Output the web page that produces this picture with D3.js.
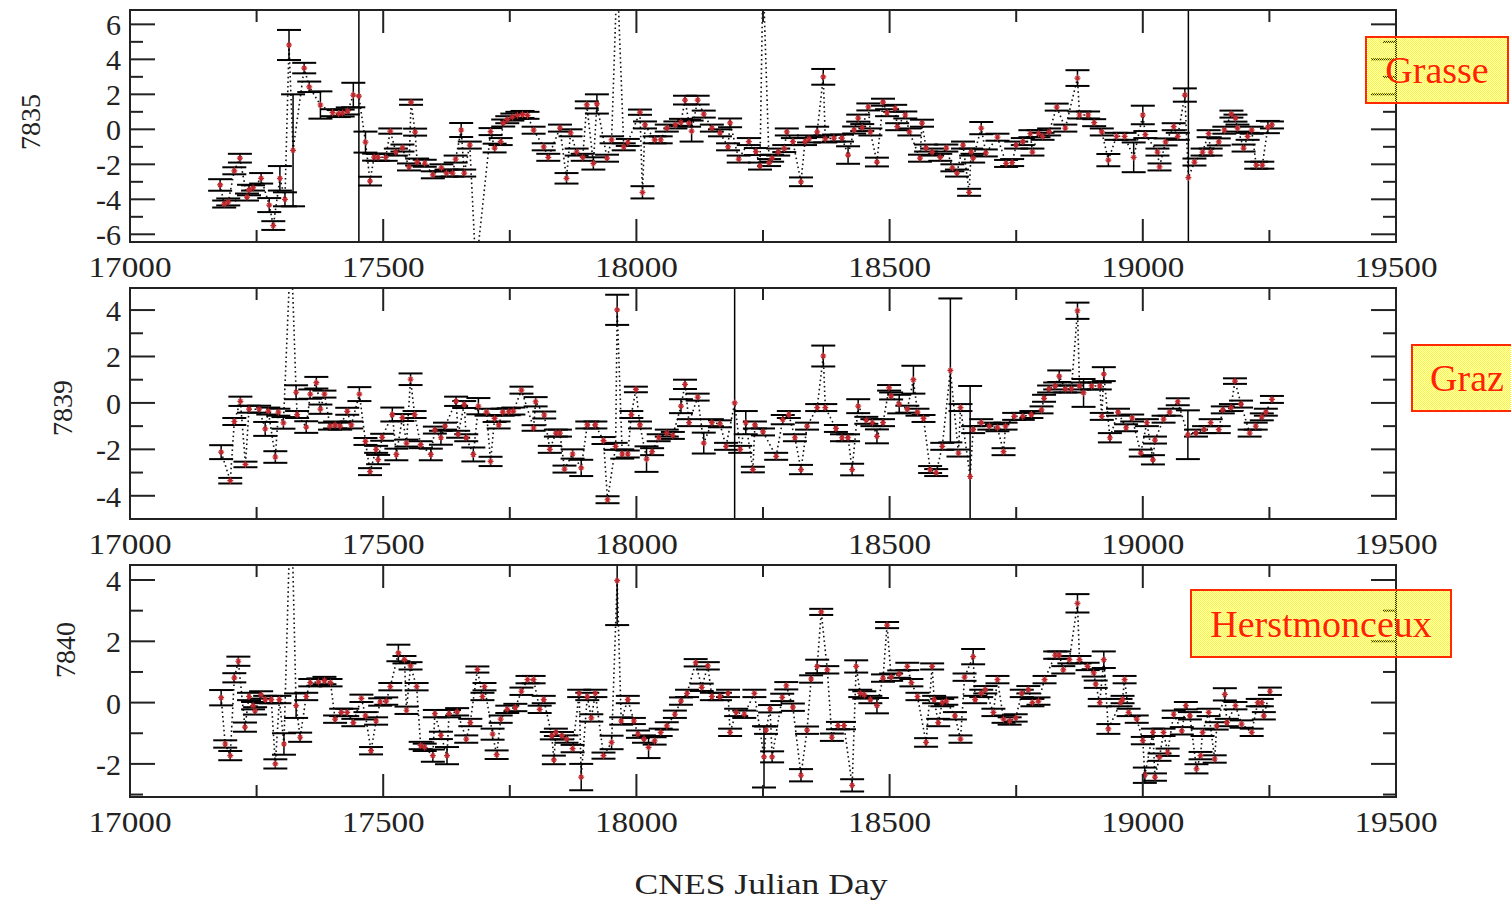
<!DOCTYPE html>
<html>
<head>
<meta charset="utf-8">
<script src="https://cdn.jsdelivr.net/npm/d3@7"></script>
<style>
  body { margin: 0; background: #fff; }
  svg { display: block; }
  text { font-family: "Liberation Serif", "Times New Roman", serif; }
</style>
</head>
<body>
<div id="chart"></div>
<script>
// station labels
const stationCodes = ["7835", "7839", "7840"];
const stationNames = ["Grasse", "Graz", "Herstmonceux"];
const xTickLabels = [17000, 17500, 18000, 18500, 19000, 19500];
const xTitle = "CNES Julian Day";

// [CNES julian day, value, error]
const grasse = [
  [17178,-3.18,0.33],[17186,-4.27,0.2],[17194,-4.15,0.2],[17206,-2.37,0.2],[17217,-1.65,0.25],
  [17231,-3.87,0.2],[17235,-3.47,0.3],[17243,-3.35,0.15],[17259,-2.8,0.3],[17275,-4.33,0.4],
  [17283,-5.5,0.25],[17296,-2.8,0.7],[17306,-4.0,0.4],[17314,4.82,0.86],[17322,-1.2,3.2],
  [17344,3.5,0.3],[17354,2.43,0.3],[17376,1.39,0.78],[17400,0.95,0.2],[17412,0.9,0.2],
  [17420,0.93,0.2],[17430,1.05,0.2],[17441,1.96,0.7],[17452,1.9,20],[17465,-0.73,0.6],
  [17474,-2.96,0.25],[17482,-1.59,0.2],[17490,-1.6,0.2],[17505,-1.6,0.2],[17514,-0.1,0.15],
  [17525,-1.3,0.2],[17538,-1.07,0.2],[17551,-2.15,0.2],[17555,1.55,0.15],[17563,-0.16,0.2],
  [17567,-1.87,0.2],[17582,-1.94,0.2],[17598,-2.6,0.2],[17615,-2.2,0.2],[17625,-2.5,0.2],
  [17637,-2.5,0.2],[17643,-1.7,0.2],[17654,-0.04,0.4],[17660,-2.5,0.2],[17671,-0.9,0.2],
  [17683,-8,0.3],[17712,-0.13,0.2],[17720,-1.07,0.25],[17732,-0.7,0.2],[17737,0.36,0.2],
  [17745,0.55,0.2],[17755,0.7,0.2],[17765,0.8,0.2],[17775,0.85,0.2],[17785,0.8,0.2],
  [17797,-0.05,0.2],[17817,-1.0,0.2],[17826,-1.6,0.2],[17849,0.07,0.2],[17862,-2.8,0.3],
  [17870,-0.2,0.2],[17882,-1.3,0.2],[17894,-1.6,0.2],[17902,1.4,0.2],[17915,-1.95,0.35],
  [17922,1.45,0.55],[17942,-1.65,0.2],[17951,-0.6,0.2],[17962,9,0.3],[17975,-1.0,0.2],
  [17983,-0.75,0.2],[18007,0.98,0.15],[18012,-3.6,0.35],[18017,0.25,0.2],[18036,-0.6,0.2],
  [18048,-0.6,0.2],[18060,0.07,0.2],[18077,0.25,0.2],[18088,0.4,0.2],[18096,1.67,0.25],
  [18104,0.35,0.2],[18109,-0.1,0.6],[18121,1.67,0.25],[18133,0.87,0.2],[18149,0.07,0.2],
  [18165,-0.2,0.2],[18181,-1.0,0.2],[18185,0.37,0.25],[18202,-1.7,0.2],[18222,-0.7,0.2],
  [18236,-1.27,0.2],[18244,-2.1,0.2],[18250,9,0.3],[18262,-1.9,0.2],[18268,-1.65,0.2],
  [18280,-1.3,0.2],[18292,-1.1,0.2],[18297,-0.15,0.2],[18309,-0.7,0.2],[18325,-3.0,0.25],
  [18333,-0.7,0.2],[18341,-0.55,0.2],[18357,-0.15,0.3],[18369,3.0,0.45],[18373,-0.55,0.2],
  [18390,-0.5,0.2],[18406,-0.5,0.2],[18418,-1.47,0.5],[18430,-0.04,0.2],[18438,0.64,0.2],
  [18446,0.1,0.2],[18458,1.28,0.2],[18462,-0.15,0.2],[18475,-1.87,0.25],[18487,1.55,0.2],
  [18495,0.95,0.2],[18511,1.2,0.2],[18515,0.15,0.2],[18531,0.82,0.2],[18539,-0.15,0.2],
  [18560,-1.65,0.2],[18564,0.35,0.2],[18572,-1.07,0.2],[18584,-1.3,0.2],[18600,-1.6,0.2],
  [18612,-1.07,0.2],[18624,-2.2,0.2],[18633,-2.5,0.2],[18645,-0.9,0.2],[18657,-3.6,0.2],
  [18661,-1.3,0.2],[18665,-1.65,0.25],[18681,0.07,0.35],[18690,-1.35,0.2],[18713,-0.45,0.2],
  [18730,-1.95,0.2],[18742,-1.9,0.2],[18750,-0.9,0.2],[18763,-0.7,0.2],[18778,-0.25,0.2],
  [18782,-1.3,0.2],[18794,-0.25,0.2],[18802,-0.4,0.2],[18815,-0.15,0.2],[18830,1.27,0.2],
  [18847,0.07,0.2],[18871,2.93,0.45],[18875,0.82,0.2],[18892,0.82,0.2],[18904,0.38,0.2],
  [18919,-0.15,0.2],[18932,-1.76,0.35],[18948,-0.4,0.2],[18964,-0.4,0.2],[18982,-1.6,0.85],
  [19000,0.82,0.53],[19005,-0.3,0.2],[19029,-1.3,0.2],[19033,-2.15,0.2],[19045,-0.72,0.2],
  [19061,0.15,0.2],[19069,-0.4,0.2],[19083,1.96,0.38],[19090,-2.76,20],[19102,-1.87,0.2],
  [19118,-1.3,0.2],[19130,-0.25,0.2],[19134,-1.3,0.2],[19150,-0.72,0.2],[19161,-0.05,0.2],
  [19175,0.87,0.2],[19183,0.64,0.2],[19187,0.07,0.2],[19199,-1.07,0.2],[19207,-0.4,0.2],
  [19215,-0.05,0.2],[19224,-2.05,0.2],[19236,-2.05,0.2],[19247,0.13,0.35],[19255,0.25,0.2]
];

const graz = [
  [17180,-2.12,0.3],[17198,-3.35,0.12],[17206,-0.8,0.15],[17218,0.07,0.2],[17228,-2.65,0.12],
  [17235,-0.27,0.15],[17255,-0.27,0.15],[17267,-1.12,0.3],[17273,-0.35,0.15],[17287,-2.33,0.25],
  [17293,-0.4,0.15],[17303,-0.86,0.25],[17318,7,0.3],[17328,0.46,0.3],[17330,-0.5,0.15],
  [17348,-1.04,0.25],[17356,0.38,0.2],[17368,0.87,0.25],[17376,-0.27,0.2],[17384,0.38,0.15],
  [17395,-1.0,0.15],[17405,-0.95,0.15],[17415,-1.0,0.15],[17429,-0.36,0.15],[17437,-0.95,0.15],
  [17453,0.38,0.3],[17465,-1.66,0.15],[17474,-2.96,0.15],[17486,-2.0,0.15],[17490,-2.44,0.2],
  [17498,-1.48,0.15],[17518,-0.5,0.3],[17526,-2.22,0.25],[17538,-0.63,0.15],[17546,-1.73,0.15],
  [17554,1.02,0.25],[17562,-0.5,0.15],[17574,-1.8,0.15],[17594,-2.22,0.25],[17602,-1.17,0.15],
  [17614,-1.5,0.3],[17622,-1.0,0.15],[17644,0.07,0.2],[17648,-1.35,0.15],[17660,-0.07,0.15],
  [17664,-1.5,0.15],[17678,-2.22,0.3],[17688,-0.14,0.35],[17704,-0.4,0.15],[17712,-2.52,0.2],
  [17720,-0.67,0.15],[17728,-0.95,0.15],[17736,-0.4,0.15],[17748,-0.38,0.15],[17757,-0.35,0.15],
  [17773,0.55,0.15],[17797,-1.08,0.12],[17801,0.05,0.2],[17818,-0.52,0.15],[17829,-2.0,0.15],
  [17841,-1.3,0.15],[17849,-1.3,0.15],[17858,-2.85,0.15],[17874,-2.2,0.2],[17891,-2.8,0.35],
  [17903,-0.95,0.15],[17919,-0.95,0.15],[17935,-1.62,0.15],[17943,-4.17,0.15],[17959,-1.87,0.15],
  [17962,4.01,0.65],[17972,-2.2,0.2],[17983,-2.2,0.15],[17990,-0.5,0.15],[17999,0.58,0.12],
  [18007,-0.95,0.15],[18020,-2.42,0.55],[18031,-2.1,0.15],[18044,-1.5,0.15],[18060,-1.3,0.15],
  [18072,-1.4,0.15],[18088,-0.14,0.3],[18096,0.8,0.2],[18104,-0.85,0.15],[18121,0.25,0.15],
  [18133,-1.73,0.45],[18149,-0.85,0.15],[18165,-0.9,0.15],[18177,-1.87,0.15],[18194,0,20],
  [18205,-2.0,0.15],[18216,-0.85,0.5],[18230,-2.87,0.12],[18234,-0.95,0.15],[18250,-1.25,0.15],
  [18276,-2.3,0.15],[18289,-0.72,0.2],[18301,-0.5,0.15],[18313,-1.5,0.15],[18325,-2.87,0.2],
  [18337,-1.0,0.15],[18357,-0.2,0.15],[18369,2.02,0.45],[18373,-0.2,0.15],[18394,-1.1,0.15],
  [18406,-1.5,0.15],[18418,-1.5,0.15],[18426,-2.87,0.25],[18438,-0.14,0.3],[18454,-0.75,0.15],
  [18466,-0.85,0.15],[18475,-1.44,0.3],[18487,-0.85,0.15],[18499,0.65,0.12],[18503,0.3,0.15],
  [18519,-0.05,0.4],[18535,-0.27,0.15],[18547,1.0,0.6],[18555,-0.4,0.15],[18567,-0.67,0.15],
  [18580,-2.87,0.15],[18592,-3.0,0.15],[18604,-1.87,0.15],[18620,1.4,3.1],[18636,-2.16,0.15],
  [18640,-0.2,0.15],[18659,-3.17,3.9],[18665,-1.15,0.15],[18681,-0.85,0.15],[18697,-1.0,0.15],
  [18713,-1.07,0.15],[18725,-2.1,0.15],[18729,-1.0,0.15],[18746,-0.58,0.15],[18763,-0.58,0.15],
  [18780,-0.5,0.15],[18800,-0.3,0.15],[18805,0.2,0.15],[18815,0.6,0.15],[18827,0.73,0.15],
  [18835,1.15,0.25],[18847,0.6,0.15],[18859,0.6,0.15],[18871,3.97,0.35],[18875,0.73,0.15],
  [18883,0.43,0.6],[18899,0.73,0.15],[18915,0.73,0.15],[18919,-0.58,0.15],[18923,1.24,0.3],
  [18935,-1.5,0.2],[18951,-0.4,0.15],[18967,-1.07,0.15],[18979,-0.65,0.15],[18996,-2.16,0.15],
  [19008,-0.85,0.15],[19020,-2.45,0.2],[19024,-1.6,0.15],[19041,-0.7,0.15],[19053,-0.4,0.15],
  [19069,0.05,0.15],[19089,-1.37,1.05],[19105,-1.3,0.15],[19121,-1.15,0.15],[19134,-0.85,0.15],
  [19150,-1.15,0.15],[19158,-0.3,0.15],[19174,-0.2,0.15],[19182,0.94,0.12],[19194,-0.05,0.15],
  [19211,-1.3,0.15],[19223,-1.0,0.15],[19235,-0.6,0.15],[19243,-0.4,0.15],[19255,0.15,0.15]
];

const herstmonceux = [
  [17180,0.16,0.25],[17188,-1.35,0.12],[17198,-1.73,0.15],[17206,0.81,0.15],[17214,1.35,0.15],
  [17227,-0.8,0.15],[17235,0.2,0.12],[17243,-0.1,0.12],[17247,-0.27,0.12],[17259,0.25,0.12],
  [17267,0.1,0.12],[17279,0.1,0.12],[17287,-2.0,0.15],[17295,0.1,0.12],[17304,-1.35,0.35],
  [17318,7,0.3],[17328,-0.1,0.4],[17336,-1.13,0.15],[17348,0.2,0.12],[17356,0.65,0.12],
  [17372,0.67,0.12],[17384,0.72,0.12],[17396,0.65,0.12],[17405,-0.54,0.12],[17417,-0.32,0.12],
  [17429,-0.32,0.12],[17441,-0.65,0.12],[17457,0.14,0.12],[17465,-0.43,0.12],[17476,-1.57,0.12],
  [17486,-0.6,0.12],[17494,0.02,0.12],[17506,0.05,0.12],[17514,0.52,0.12],[17530,1.62,0.27],
  [17542,1.4,0.12],[17546,-0.25,0.12],[17554,1.2,0.12],[17566,0.52,0.12],[17574,-1.4,0.12],
  [17582,-1.46,0.12],[17598,-1.73,0.2],[17602,-0.36,0.12],[17614,-1.07,0.12],[17626,-1.73,0.28],
  [17630,-0.36,0.12],[17646,-0.3,0.12],[17664,-1.19,0.12],[17672,-0.65,0.12],[17686,1.08,0.1],
  [17696,0.2,0.12],[17700,0.52,0.12],[17716,-1.03,0.18],[17724,-1.7,0.14],[17732,-0.54,0.12],
  [17745,-0.22,0.12],[17761,-0.16,0.12],[17773,0.37,0.12],[17785,0.75,0.12],[17797,0.75,0.12],
  [17809,-0.22,0.12],[17817,0.1,0.12],[17833,-1.08,0.12],[17837,-1.87,0.14],[17841,-0.97,0.12],
  [17853,-1.08,0.12],[17862,-1.19,0.12],[17874,-1.5,0.12],[17887,0.3,0.12],[17891,-2.43,0.43],
  [17903,0.2,0.12],[17911,-0.5,0.12],[17919,0.3,0.12],[17935,-1.73,0.1],[17951,-1.3,0.22],
  [17962,3.98,1.45],[17970,-0.6,0.12],[17983,0.1,0.12],[17995,-0.6,0.1],[18003,-1.03,0.12],
  [18015,-1.19,0.12],[18024,-1.46,0.35],[18036,-1.25,0.12],[18048,-0.97,0.12],[18060,-0.76,0.12],
  [18076,-0.38,0.12],[18088,0.05,0.12],[18100,0.3,0.12],[18117,1.3,0.12],[18129,0.5,0.12],
  [18141,1.2,0.12],[18149,0.2,0.12],[18165,0.2,0.12],[18181,0.3,0.12],[18185,-0.97,0.12],
  [18197,-0.32,0.12],[18213,-0.38,0.12],[18233,0.3,0.12],[18252,-1.77,1.0],[18256,-0.9,0.12],
  [18264,-0.2,0.12],[18268,-1.77,0.18],[18288,0.17,0.12],[18296,0.55,0.12],[18309,-0.15,0.12],
  [18325,-2.37,0.2],[18337,-0.9,0.12],[18345,0.77,0.12],[18357,1.18,0.22],[18365,2.96,0.1],
  [18377,1.07,0.12],[18386,-1.13,0.12],[18398,-0.75,0.12],[18410,-0.75,0.12],[18426,-2.7,0.2],
  [18434,1.18,0.2],[18442,0.3,0.12],[18450,0.25,0.12],[18462,0.1,0.12],[18475,-0.1,0.25],
  [18487,0.8,0.12],[18495,2.53,0.1],[18503,0.83,0.12],[18519,0.93,0.12],[18535,1.18,0.12],
  [18543,0.65,0.12],[18555,0.2,0.12],[18572,-1.3,0.14],[18584,1.18,0.1],[18588,0.1,0.12],
  [18596,-0.65,0.12],[18604,0.0,0.12],[18612,0.05,0.12],[18629,-0.43,0.12],[18640,-1.19,0.12],
  [18648,0.83,0.12],[18665,1.5,0.25],[18669,0.1,0.12],[18681,0.3,0.12],[18689,0.42,0.12],
  [18705,-0.32,0.12],[18713,0.75,0.12],[18725,-0.54,0.12],[18737,-0.6,0.12],[18749,-0.5,0.12],
  [18761,0.3,0.12],[18774,0.42,0.12],[18782,0.0,0.12],[18794,0.05,0.12],[18806,0.75,0.12],
  [18827,1.55,0.12],[18835,1.55,0.12],[18843,1.07,0.12],[18855,1.4,0.12],[18871,3.24,0.3],
  [18875,1.4,0.12],[18891,1.18,0.12],[18903,0.97,0.12],[18907,0.6,0.12],[18915,0.0,0.12],
  [18923,1.4,0.27],[18932,-0.86,0.16],[18956,0.0,0.12],[18960,0.1,0.12],[18964,0.75,0.12],
  [18972,-0.32,0.12],[18988,-0.54,0.12],[19000,-1.24,0.12],[19004,-2.37,0.25],[19020,-0.97,0.12],
  [19024,-2.43,0.12],[19033,-1.78,0.12],[19041,-0.97,0.12],[19049,-1.62,0.12],[19061,-0.38,0.12],
  [19077,-0.92,0.12],[19085,-0.1,0.12],[19093,-0.43,0.12],[19106,-2.16,0.15],[19114,-1.73,0.12],
  [19118,-0.97,0.12],[19130,-0.32,0.12],[19142,-1.84,0.12],[19146,-0.76,0.12],[19162,0.27,0.2],
  [19166,-0.65,0.12],[19183,-0.1,0.12],[19195,-0.7,0.12],[19215,-0.97,0.12],[19227,0.0,0.12],
  [19235,0.0,0.12],[19239,-0.43,0.12],[19251,0.37,0.12]
];

const W = 1511, H = 903;
const svg = d3.select("#chart").append("svg").attr("width", W).attr("height", H);

// dithered yellow fill (lets the axis ticks show through, like the original)
const defs = svg.append("defs");
const pat = defs.append("pattern").attr("id", "dither")
    .attr("width", 2).attr("height", 2).attr("patternUnits", "userSpaceOnUse");
pat.append("rect").attr("x", 0).attr("y", 0).attr("width", 1).attr("height", 1).attr("fill", "#ffff00");
pat.append("rect").attr("x", 1).attr("y", 1).attr("width", 1).attr("height", 1).attr("fill", "#ffff00");

const x = d3.scaleLinear().domain([17000, 19500]).range([130, 1396]);

const panels = [
    { code: stationCodes[0], data: grasse, top: 10, bottom: 242, domain: [-6.44, 6.82],
      yTicks: d3.range(-6, 7), labelPos: [40, 122] },
    { code: stationCodes[1], data: graz, top: 288, bottom: 519, domain: [-5.0, 4.95],
      yTicks: d3.range(-4, 5), labelPos: [72, 408] },
    { code: stationCodes[2], data: herstmonceux, top: 565, bottom: 797, domain: [-3.08, 4.49],
      yTicks: d3.range(-3, 5), labelPos: [75, 650] }
];

const CAP = 12;
const redMark = "#c0282d";

panels.forEach((p, i) => {
    const y = d3.scaleLinear().domain(p.domain).range([p.bottom, p.top]);
    const g = svg.append("g");

    defs.append("clipPath").attr("id", `clip${i}`)
        .append("rect").attr("x", 130).attr("y", p.top).attr("width", 1266).attr("height", p.bottom - p.top);
    const plot = g.append("g").attr("clip-path", `url(#clip${i})`);

    // dotted connecting line
    const line = d3.line().x(d => x(d[0])).y(d => y(d[1]));
    plot.append("path").datum(p.data)
        .attr("d", line).attr("fill", "none")
        .attr("stroke", "#111").attr("stroke-width", 1.6).attr("stroke-dasharray", "1.6,3");

    // error bars
    const bars = plot.selectAll("g.bar").data(p.data).join("g").attr("class", "bar");
    bars.append("line")
        .attr("x1", d => x(d[0])).attr("x2", d => x(d[0]))
        .attr("y1", d => y(d[1] + d[2])).attr("y2", d => y(d[1] - d[2]))
        .attr("stroke", "#000").attr("stroke-width", 1.5);
    [1, -1].forEach(s => {
        bars.append("line")
            .attr("x1", d => x(d[0]) - CAP).attr("x2", d => x(d[0]) + CAP)
            .attr("y1", d => y(d[1] + s * d[2])).attr("y2", d => y(d[1] + s * d[2]))
            .attr("stroke", "#000").attr("stroke-width", 2);
    });

    // red markers
    plot.selectAll("path.mk").data(p.data).join("path").attr("class", "mk")
        .attr("transform", d => `translate(${x(d[0])},${y(d[1])})`)
        .attr("d", "M-3,0H3M0,-3.5V3.5M-2,-2L2,2M-2,2L2,-2")
        .attr("stroke", redMark).attr("stroke-width", 1.2);

    // frame
    g.append("rect").attr("x", 130).attr("y", p.top).attr("width", 1266).attr("height", p.bottom - p.top)
        .attr("fill", "none").attr("stroke", "#222").attr("stroke-width", 2);

    // y ticks (inward on both sides)
    p.yTicks.forEach(v => {
        const len = v % 2 === 0 ? 25 : 13;
        const yy = y(v);
        g.append("line").attr("x1", 130).attr("x2", 130 + len).attr("y1", yy).attr("y2", yy)
            .attr("stroke", "#222").attr("stroke-width", 2);
        g.append("line").attr("x1", 1396).attr("x2", 1396 - len).attr("y1", yy).attr("y2", yy)
            .attr("stroke", "#222").attr("stroke-width", 2);
        if (v % 2 === 0) {
            g.append("text").attr("x", 121).attr("y", yy + 11)
                .attr("text-anchor", "end").attr("font-size", 30).attr("fill", "#222")
                .text(v);
        }
    });

    // x ticks
    d3.range(17000, 19501, 250).forEach(t => {
        const major = t % 500 === 0;
        const len = major ? 23 : 12;
        const xx = x(t);
        g.append("line").attr("x1", xx).attr("x2", xx).attr("y1", p.bottom).attr("y2", p.bottom - len)
            .attr("stroke", "#222").attr("stroke-width", 2);
        g.append("line").attr("x1", xx).attr("x2", xx).attr("y1", p.top).attr("y2", p.top + len)
            .attr("stroke", "#222").attr("stroke-width", 2);
    });
    xTickLabels.forEach(t => {
        g.append("text").attr("x", x(t)).attr("y", p.bottom + 35)
            .attr("text-anchor", "middle").attr("font-size", 30).attr("fill", "#222")
            .attr("textLength", 83).attr("lengthAdjust", "spacingAndGlyphs")
            .text(t);
    });

    // station code label
    g.append("text")
        .attr("transform", `translate(${p.labelPos[0]},${p.labelPos[1]}) rotate(-90)`)
        .attr("text-anchor", "middle").attr("font-size", 28).attr("fill", "#222")
        .text(p.code);
});

// x title
svg.append("text").attr("x", 761).attr("y", 894)
    .attr("text-anchor", "middle").attr("font-size", 30).attr("fill", "#222")
    .attr("textLength", 253).attr("lengthAdjust", "spacingAndGlyphs")
    .text(xTitle);

// station name boxes
const boxes = [
    { name: stationNames[0], x: 1366, y: 37, w: 142, h: 66 },
    { name: stationNames[1], x: 1412, y: 345, w: 110, h: 66 },
    { name: stationNames[2], x: 1191, y: 590, w: 260, h: 67 }
];
boxes.forEach(b => {
    svg.append("rect").attr("x", b.x).attr("y", b.y).attr("width", b.w).attr("height", b.h)
        .attr("fill", "url(#dither)").attr("stroke", "#ff2a00").attr("stroke-width", 2);
    svg.append("text").attr("x", b.x + b.w / 2).attr("y", b.y + b.h / 2 + 13)
        .attr("text-anchor", "middle").attr("font-size", 38).attr("fill", "#ff2200")
        .text(b.name);
});
</script>
</body>
</html>
